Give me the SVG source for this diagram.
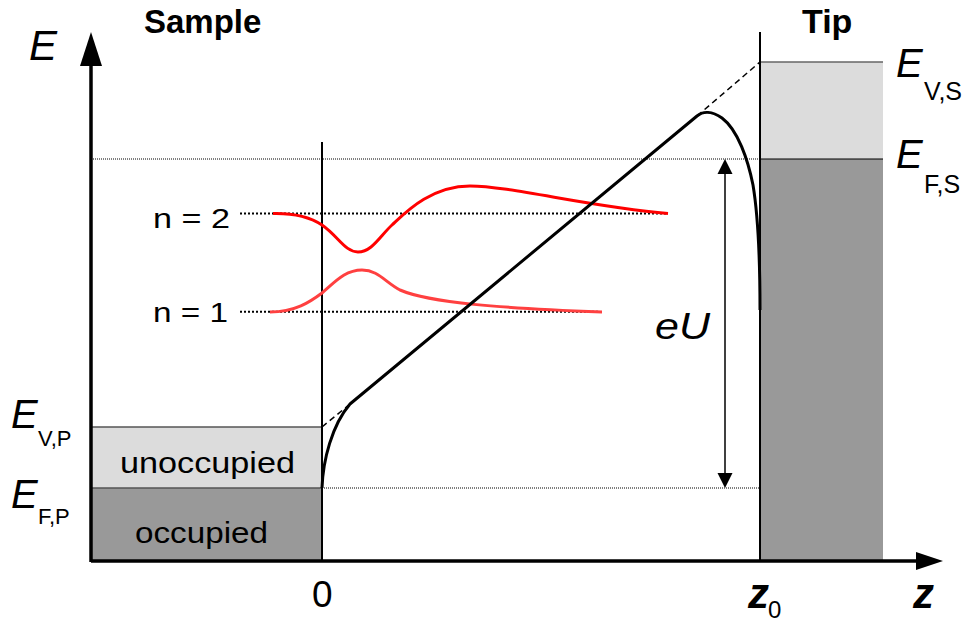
<svg xmlns="http://www.w3.org/2000/svg" width="971" height="623" viewBox="0 0 971 623">
<style>
text{font-family:"Liberation Sans",Arial,sans-serif;fill:#000}
.it{font-style:italic}
.b{font-weight:bold}
.big{font-size:40px;font-style:italic}
.sub{font-size:22px}
.subs{font-size:25px}
.lbl{font-size:29px}
.dot1{stroke:#000;stroke-width:1;stroke-dasharray:1,1;fill:none}
.dot2{stroke:#000;stroke-width:2;stroke-dasharray:2,2;fill:none}
.dash{stroke:#000;stroke-width:1.5;stroke-dasharray:6,4;fill:none}
.curve{stroke:#000;stroke-width:3;fill:none;stroke-linejoin:round}
.thin{stroke:#000;stroke-width:2;fill:none}
</style>
<rect width="971" height="623" fill="#fff"/>
<g id="sample">
<rect x="91" y="427" width="231" height="61" fill="#dcdcdc"/>
<rect x="91" y="488" width="231" height="72" fill="#999"/>
<line x1="91" y1="427" x2="322" y2="427" stroke="#555" stroke-width="1.5"/>
<line x1="91" y1="488" x2="322" y2="488" stroke="#555" stroke-width="1.5"/>
<text x="120" y="473" class="lbl" textLength="175" lengthAdjust="spacingAndGlyphs">unoccupied</text>
<text x="135" y="543" class="lbl" textLength="133" lengthAdjust="spacingAndGlyphs">occupied</text>
<text x="144" y="33" font-size="33" class="b">Sample</text>
</g>
<g id="tip">
<rect x="761" y="62" width="122" height="97" fill="#dcdcdc"/>
<rect x="761" y="159" width="122" height="401" fill="#999"/>
<line x1="761" y1="62" x2="883" y2="62" stroke="#666" stroke-width="1.5"/>
<line x1="760" y1="159" x2="883" y2="159" stroke="#000" stroke-width="1"/>
<text x="802" y="33" font-size="34" class="b">Tip</text>
</g>
<g id="levels">
<line class="dot1" x1="91" y1="159" x2="760" y2="159"/>
<line class="dot1" x1="322" y1="488" x2="760" y2="488"/>
<line class="dot2" x1="240" y1="213.5" x2="666" y2="213.5"/>
<line class="dot2" x1="240" y1="311.7" x2="600" y2="311.7"/>
</g>
<g id="interfaces">
<line class="thin" x1="322" y1="142" x2="322" y2="560"/>
<line class="thin" x1="760" y1="32" x2="760" y2="560"/>
</g>
<g id="wavefunctions">
<path d="M273,213.5 C295,213 310,217 322,225 C338,236 345,252 358,252 C372,252 380,236 392,225 C404,214 430,186 470,186 C510,186 590,207 668,213.5" stroke="#ff0000" stroke-width="3" fill="none"/>
<path d="M270,312 C295,312 310,302 322,293 C335,282 345,270 362,270 C378,270 385,282 400,290 C430,303 500,308 602,312" stroke="#ff4040" stroke-width="3" fill="none"/>
</g>
<g id="connectors">
<line class="dash" x1="322" y1="427" x2="350" y2="404"/>
<line class="dash" x1="697" y1="116" x2="760" y2="62"/>
<path class="curve" d="M322,488 C323,460 332,425 350,404 L697,116 C703,111 712,111 722,118 C738,130 748,160 753,185 C758,215 760,260 760,310"/>
<line x1="725" y1="172" x2="725" y2="475" stroke="#000" stroke-width="1.5"/>
<polygon points="725,159 717.5,174 732.5,174" fill="#000"/>
<polygon points="725,488 717.5,473 732.5,473" fill="#000"/>
<line x1="91" y1="561" x2="918" y2="561" stroke="#000" stroke-width="3.5"/>
<polygon points="943,561 916,552 916,570" fill="#000"/>
<line x1="91" y1="562" x2="91" y2="64" stroke="#000" stroke-width="3.5"/>
<polygon points="91,32 80,66 102,66" fill="#000"/>
</g>
<g id="labels">
<text x="29" y="60" font-size="42" class="it">E</text>
<text x="896" y="77" class="big">E</text><text x="924" y="100" class="subs">V,S</text>
<text x="896" y="168" class="big">E</text><text x="924" y="193" class="subs">F,S</text>
<text x="11" y="428" class="big">E</text><text x="38" y="446" class="sub">V,P</text>
<text x="11" y="508" class="big">E</text><text x="38" y="524" class="sub">F,P</text>
<text x="153" y="228" font-size="28" textLength="77" lengthAdjust="spacingAndGlyphs">n = 2</text>
<text x="153" y="322" font-size="28" textLength="75" lengthAdjust="spacingAndGlyphs">n = 1</text>
<text x="655" y="339" font-size="37" class="it" textLength="55" lengthAdjust="spacingAndGlyphs">eU</text>
<text x="312" y="607" font-size="37">0</text>
<text x="748" y="608" font-size="42" class="it b">z</text><text x="768" y="618" font-size="24">0</text>
<text x="913" y="608" font-size="42" class="it b">z</text>
</g>
</svg>
